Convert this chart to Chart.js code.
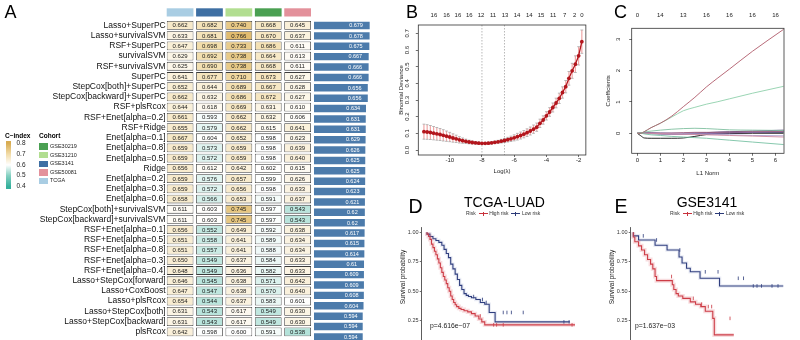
<!DOCTYPE html>
<html>
<head>
<meta charset="utf-8">
<script src="https://cdn.jsdelivr.net/npm/chart.js@4.4.1/dist/chart.umd.min.js"></script>
<style>
  body { margin: 0; width: 800px; height: 340px; overflow: hidden; position: relative; background: #fff;
         font-family: "Liberation Sans", Arial, sans-serif; }
  canvas { position: absolute; }
  .t { position: absolute; white-space: nowrap; line-height: 1; color: #000; }
  .letter { font-size: 18px; }
  .sym { display: inline-block; width: 9px; height: 4px; margin: 0 1.5px;
         background: linear-gradient(var(--c), var(--c)) center / 100% 1px no-repeat,
                     linear-gradient(var(--c), var(--c)) center / 1px 100% no-repeat; }
  .leg { position: absolute; display: flex; align-items: center; font-size: 5px; color: #333; line-height: 1; white-space: nowrap; }
  .rot { position: absolute; white-space: nowrap; line-height: 1; transform: translate(-50%, -50%) rotate(-90deg); }
</style>
</head>
<body>

<canvas id="heat" width="312" height="343" style="left:0;top:0"></canvas>
<canvas id="meanBars" width="60" height="343" style="left:313.5px;top:0"></canvas>
<canvas id="cvDev" width="210" height="180" style="left:380px;top:0"></canvas>
<canvas id="coefPath" width="210" height="180" style="left:590px;top:0"></canvas>
<canvas id="kmTcga" width="210" height="175" style="left:380px;top:180px"></canvas>
<canvas id="kmGse" width="210" height="175" style="left:590px;top:180px"></canvas>

<div class="t letter" style="left:4.5px;top:2.7px">A</div>
<div class="t letter" style="left:406px;top:2.7px">B</div>
<div class="t letter" style="left:614px;top:2.7px">C</div>
<div class="t" style="left:408.5px;top:196.8px;font-size:19.5px">D</div>
<div class="t" style="left:614.5px;top:196.8px;font-size:19.5px">E</div>

<!-- heatmap legends -->
<div class="t" style="left:5px;top:133px;font-size:6.5px;font-weight:bold">C−index</div>
<div class="t" style="left:39px;top:133px;font-size:6.5px;font-weight:bold">Cohort</div>
<div style="position:absolute;left:5.5px;top:141px;width:5.5px;height:47.5px;
  background:linear-gradient(to bottom,#d8ac52 4.8%,#f2dca8 27.4%,#ffffff 49.9%,#84d0c1 72.4%,#35b09c 94.9%)"></div>
<div id="cbTicks"></div>
<div id="cohortKey"></div>

<!-- survival panel titles -->
<div class="t" style="left:504.5px;top:194.9px;font-size:14px;transform:translateX(-50%)">TCGA-LUAD</div>
<div class="t" style="left:707px;top:194.9px;font-size:14px;transform:translateX(-50%)">GSE3141</div>
<div class="leg" style="left:466px;top:211px">Risk&nbsp;<span class="sym" style="--c:#c8323c"></span>High risk&nbsp;<span class="sym" style="--c:#2b3a78"></span>Low risk</div>
<div class="leg" style="left:670px;top:211px">Risk&nbsp;<span class="sym" style="--c:#c8323c"></span>High risk&nbsp;<span class="sym" style="--c:#2b3a78"></span>Low risk</div>
<div class="rot" style="left:403.3px;top:276.5px;font-size:6.5px;color:#222">Survival probability</div>
<div class="rot" style="left:611.7px;top:276.5px;font-size:6.5px;color:#222">Survival probability</div>
<div class="t" style="left:430px;top:323.4px;font-size:6.8px;color:#222">p=4.616e−07</div>
<div class="t" style="left:635px;top:323.4px;font-size:6.8px;color:#222">p=1.637e−03</div>

<script>
// ---- C-index table (A) ----
const cohorts = ['TCGA', 'GSE3141', 'GSE31210', 'GSE30219', 'GSE50081'];
const cohortColors = ['#a9cde3', '#3e6fa3', '#b2de91', '#4aa052', '#e3919b'];
const models = ['Lasso+SuperPC', 'Lasso+survivalSVM', 'RSF+SuperPC', 'survivalSVM', 'RSF+survivalSVM', 'SuperPC',
  'StepCox[both]+SuperPC', 'StepCox[backward]+SuperPC', 'RSF+plsRcox', 'RSF+Enet[alpha=0.2]', 'RSF+Ridge',
  'Enet[alpha=0.1]', 'Enet[alpha=0.8]', 'Enet[alpha=0.5]', 'Ridge', 'Enet[alpha=0.2]', 'Enet[alpha=0.3]',
  'Enet[alpha=0.6]', 'StepCox[both]+survivalSVM', 'StepCox[backward]+survivalSVM', 'RSF+Enet[alpha=0.1]',
  'RSF+Enet[alpha=0.5]', 'RSF+Enet[alpha=0.8]', 'RSF+Enet[alpha=0.3]', 'RSF+Enet[alpha=0.4]',
  'Lasso+StepCox[forward]', 'Lasso+CoxBoost', 'Lasso+plsRcox', 'Lasso+StepCox[both]', 'Lasso+StepCox[backward]', 'plsRcox'];
const tcga     = [0.662,0.633,0.647,0.629,0.625,0.641,0.652,0.662,0.644,0.661,0.655,0.667,0.659,0.659,0.656,0.659,0.659,0.658,0.611,0.611,0.656,0.651,0.651,0.650,0.648,0.646,0.647,0.654,0.631,0.631,0.642];
const gse3141  = [0.682,0.681,0.698,0.692,0.690,0.677,0.644,0.632,0.618,0.593,0.579,0.604,0.573,0.572,0.612,0.576,0.572,0.566,0.603,0.603,0.552,0.558,0.557,0.549,0.549,0.545,0.547,0.544,0.543,0.543,0.598];
const gse31210 = [0.740,0.766,0.733,0.738,0.738,0.710,0.689,0.686,0.669,0.662,0.662,0.652,0.659,0.659,0.642,0.657,0.656,0.653,0.745,0.745,0.649,0.641,0.641,0.637,0.636,0.638,0.638,0.637,0.617,0.617,0.600];
const gse30219 = [0.668,0.670,0.686,0.664,0.668,0.673,0.667,0.672,0.631,0.632,0.615,0.598,0.598,0.598,0.602,0.599,0.598,0.591,0.597,0.597,0.592,0.589,0.588,0.584,0.582,0.571,0.570,0.583,0.549,0.549,0.591];
const gse50081 = [0.645,0.637,0.611,0.613,0.611,0.627,0.628,0.627,0.610,0.606,0.641,0.623,0.639,0.640,0.615,0.626,0.633,0.637,0.543,0.543,0.638,0.634,0.634,0.633,0.633,0.642,0.640,0.601,0.630,0.630,0.538];
const meanC    = [0.679,0.678,0.675,0.667,0.666,0.666,0.656,0.656,0.634,0.631,0.631,0.629,0.626,0.625,0.625,0.624,0.623,0.621,0.62,0.62,0.617,0.615,0.614,0.61,0.609,0.609,0.608,0.604,0.594,0.594,0.594];
const cbTicks = [0.8, 0.7, 0.6, 0.5, 0.4];

// ---- lasso CV (B) ----
const lamLog = [-11.6,-11.4,-11.2,-11.0,-10.8,-10.6,-10.4,-10.2,-10.0,-9.8,-9.6,-9.4,-9.2,-9.0,-8.8,-8.6,-8.4,-8.2,-8.0,-7.8,
  -7.6,-7.4,-7.2,-7.0,-6.8,-6.6,-6.4,-6.2,-6.0,-5.8,-5.6,-5.4,-5.2,-5.0,-4.8,-4.6,-4.4,-4.2,-4.0,-3.8,
  -3.6,-3.4,-3.2,-3.0,-2.8,-2.6,-2.4,-2.2,-2.0,-1.8];
const devMean = [0.110,0.108,0.105,0.101,0.097,0.093,0.088,0.083,0.078,0.072,0.067,0.061,0.056,0.052,0.048,0.045,0.043,0.041,0.040,0.040,
  0.041,0.043,0.046,0.049,0.053,0.057,0.062,0.067,0.073,0.080,0.087,0.095,0.104,0.114,0.125,0.137,0.160,0.180,0.205,0.228,
  0.255,0.282,0.310,0.345,0.380,0.430,0.475,0.515,0.565,0.650];
const devSE = [0.045,0.044,0.042,0.040,0.038,0.036,0.034,0.031,0.028,0.025,0.022,0.019,0.016,0.013,0.011,0.009,0.008,0.007,0.006,0.006,
  0.006,0.007,0.008,0.009,0.011,0.012,0.014,0.016,0.018,0.020,0.021,0.022,0.023,0.024,0.025,0.025,0.025,0.025,0.025,0.026,
  0.027,0.029,0.031,0.034,0.037,0.041,0.045,0.050,0.055,0.070];
const lamMin = -8.0, lam1se = -6.6;
const nzeroPosB = [-10.98,-10.2,-9.49,-8.78,-8.06,-7.31,-6.57,-5.82,-5.06,-4.33,-3.58,-2.86,-2.25,-1.8];
const nzeroLabB = ['16','16','16','16','12','11','13','14','14','15','11','7','2','0'];
const devTicks = [0, 0.1, 0.2, 0.3, 0.4, 0.5, 0.6, 0.7];
const lamTicks = [-10, -8, -6, -4, -2];

// ---- coefficient paths (C) ----
const l1Norm = [0, 0.15, 0.3, 0.6, 1.0, 1.5, 2.0, 2.5, 3.0, 3.5, 4.0, 5.0, 6.35];
const coefPaths = [
  ['#b05a6a', [0, 0, 0.05, 0.18, 0.32, 0.55, 0.85, 1.15, 1.48, 1.77, 2.05, 2.62, 3.32]],
  ['#8fd0ab', [0, 0, 0.05, 0.18, 0.32, 0.52, 0.72, 0.83, 0.93, 1.01, 1.10, 1.28, 1.50]],
  ['#7fbf9f', [0, 0.01, 0.04, 0.07, 0.10, 0.13, 0.15, 0.16, 0.15, 0.13, 0.11, 0.10, 0.09]],
  ['#78c2a4', [0, 0, -0.02, -0.05, -0.07, -0.10, -0.12, -0.14, -0.16, -0.19, -0.22, -0.28, -0.36]],
  ['#d08aa0', [0, 0, 0, 0, -0.01, -0.02, -0.03, -0.04, -0.05, -0.06, -0.07, -0.09, -0.12]],
  ['#b0a0d0', [0, 0, 0, 0, 0, 0, -0.01, -0.02, -0.03, -0.04, -0.05, -0.07, -0.08]],
  ['#a06080', [0, 0, 0, 0, 0, 0.01, 0.02, 0.03, 0.03, 0.03, 0.04, 0.05, 0.06]],
  ['#8a6bb0', [0, 0, 0, -0.01, -0.02, -0.03, -0.03, -0.02, -0.01, 0, 0.01, 0.03, 0.05]],
  ['#5a3d7a', [0, 0.01, 0.02, 0.02, 0.01, 0, 0, 0.01, 0.02, 0.04, 0.05, 0.07, 0.10]],
  ['#303050', [0, 0, 0, -0.01, -0.02, -0.02, -0.02, -0.01, 0, 0.01, 0.02, 0.03, 0.03]],
  ['#111111', [0, -0.08, -0.15, -0.16, -0.16, -0.16, -0.15, -0.10, -0.04, -0.02, -0.01, 0, 0]]
];
const nzeroPosC = [0, 1, 2, 3, 4, 5, 6];
const nzeroLabC = ['0', '14', '13', '16', '16', '16', '16'];
const coefTicks = [0, 1, 2, 3];
const normTicks = [0, 1, 2, 3, 4, 5, 6];

// ---- Kaplan-Meier (D: TCGA-LUAD, E: GSE3141), time in years ----
const tcgaHighT = [0,0.2,0.4,0.6,0.8,1.0,1.2,1.4,1.6,1.8,2.0,2.2,2.4,2.6,2.8,3.0,3.2,3.4,3.6,3.8,4.0,4.3,4.6,5.0,5.5,6.0,6.5,7.0,7.4,7.8,8.3,20];
const tcgaHighS = [1,0.985,0.965,0.94,0.90,0.87,0.84,0.81,0.775,0.74,0.70,0.66,0.625,0.595,0.565,0.53,0.50,0.46,0.43,0.405,0.385,0.37,0.355,0.345,0.335,0.325,0.31,0.29,0.265,0.24,0.215,0.215];
const tcgaLowT = [0,0.4,0.8,1.2,1.6,2.0,2.3,2.6,2.9,3.2,3.5,3.8,4.1,4.4,4.7,5.0,5.3,5.6,6.0,6.6,7.2,7.8,8.4,9.2,13.5,19.3];
const tcgaLowS = [1,0.985,0.965,0.945,0.93,0.915,0.89,0.855,0.82,0.785,0.73,0.69,0.645,0.60,0.55,0.515,0.48,0.465,0.455,0.445,0.43,0.405,0.39,0.32,0.24,0.24];
const tcgaHighCens = [7.2, 9.0, 9.4, 10.3, 19.6];
const tcgaLowCens = [6.3, 7.5, 8.0, 10.3, 10.8, 11.4, 13.0, 18.5, 19.2];
const gseHighT = [0,0.2,0.7,1.1,1.5,1.9,2.3,2.6,2.9,3.1,5.2,5.4,5.7,6.0,6.6,7.6,8.3,9.0,9.6,10.6,10.8,13.4];
const gseHighS = [1,0.96,0.92,0.885,0.85,0.81,0.77,0.73,0.69,0.625,0.59,0.555,0.515,0.48,0.46,0.44,0.41,0.39,0.37,0.33,0.27,0.13];
const gseLowT = [0,0.7,2.9,4.5,6.1,6.5,7.1,7.6,8.9,11.5,14.8,20];
const gseLowS = [1,0.97,0.935,0.89,0.85,0.79,0.74,0.695,0.665,0.61,0.545,0.545];
const gseHighCens = [5.1, 8.0, 9.1, 10.0, 10.45, 12.9];
const gseLowCens = [1.33, 3.1, 6.2, 9.6, 11.3, 14.0, 14.7, 16.0, 16.5, 17.1, 18.5, 19.3];
const survTicks = [0, 0.25, 0.5, 0.75, 1.0];

const FONT = '"Liberation Sans", Arial, sans-serif';
Chart.defaults.font.family = FONT;
Chart.defaults.color = '#222';
Chart.defaults.animation = false;
Chart.defaults.plugins.legend.display = false;
Chart.defaults.plugins.tooltip.enabled = false;

// heatmap colour ramp
const rampAt = [0.4, 0.5, 0.6, 0.7, 0.8];
const rampCol = ['#35b09c', '#84d0c1', '#ffffff', '#f2dca8', '#d8ac52'];
function hex(c) { return [1, 3, 5].map(i => parseInt(c.slice(i, i + 2), 16)); }
function cIndexColor(v) {
  let i = 0;
  while (i < rampAt.length - 2 && v > rampAt[i + 1]) i++;
  const f = Math.min(1, Math.max(0, (v - rampAt[i]) / (rampAt[i + 1] - rampAt[i])));
  const a = hex(rampCol[i]), b = hex(rampCol[i + 1]);
  return 'rgb(' + a.map((c, k) => Math.round(c + (b[k] - c) * f)).join(',') + ')';
}

// legends beside the table
document.getElementById('cbTicks').innerHTML = cbTicks.map((v, i) =>
  `<div class="t" style="left:16.5px;top:${143.3 + i * 10.7 - 3.2}px;font-size:6.5px;color:#222">${v.toFixed(1)}</div>`).join('');
const keyOrder = [3, 2, 1, 4, 0];
document.getElementById('cohortKey').innerHTML = keyOrder.map((j, i) =>
  `<div style="position:absolute;left:38.5px;top:${143.3 + i * 8.6}px;width:9.5px;height:6.6px;background:${cohortColors[j]}"></div>
   <div class="t" style="left:50px;top:${143.3 + i * 8.6 + 0.6}px;font-size:5.5px;color:#222">${cohorts[j]}</div>`).join('');

// ---- A: heatmap of C-index ----
const cohortCols = [tcga, gse3141, gse31210, gse30219, gse50081];
const cellW = 0.91;
const heatLabels = {
  id: 'heatLabels',
  afterDatasetsDraw(chart) {
    const { ctx, chartArea, scales: { x } } = chart;
    ctx.save();
    cohortColors.forEach((col, j) => {
      const x0 = x.getPixelForValue(j), x1 = x.getPixelForValue(j + cellW);
      ctx.fillStyle = col;
      ctx.fillRect(x0, chartArea.top - 12, x1 - x0, 8.2);
    });
    ctx.font = '6px ' + FONT;
    ctx.fillStyle = '#1a1a1a';
    ctx.textAlign = 'center';
    ctx.textBaseline = 'middle';
    chart.data.datasets.forEach((ds, j) => {
      chart.getDatasetMeta(j).data.forEach((bar, i) => {
        ctx.fillText(cohortCols[j][i].toFixed(3), (bar.x + bar.base) / 2, bar.y + 0.4);
      });
    });
    ctx.restore();
  }
};
new Chart(document.getElementById('heat'), {
  type: 'bar',
  data: {
    labels: models,
    datasets: cohortCols.map((vals, j) => ({
      label: cohorts[j],
      data: vals.map(() => [j, j + cellW]),
      backgroundColor: c => cIndexColor(vals[c.dataIndex]),
      borderColor: '#3a3a3a',
      borderWidth: 0.8,
      borderSkipped: false,
      grouped: false,
      barPercentage: 0.86,
      categoryPercentage: 1
    }))
  },
  options: {
    indexAxis: 'y',
    responsive: false,
    layout: { padding: { top: 20.3, bottom: 0.9, right: 1 } },
    scales: {
      x: { display: false, min: 0, max: 4 + cellW },
      y: {
        afterFit: s => { s.width = 166.7; },
        grid: { display: false, drawTicks: false },
        border: { display: false },
        ticks: { autoSkip: false, padding: 1, color: '#111', font: { size: 8.5 } }
      }
    }
  },
  plugins: [heatLabels]
});

// mean C-index bars
const meanLabels = {
  id: 'meanLabels',
  afterDatasetsDraw(chart) {
    const { ctx } = chart;
    ctx.save();
    ctx.font = '5.5px ' + FONT;
    ctx.fillStyle = '#ffffff';
    ctx.textAlign = 'center';
    ctx.textBaseline = 'middle';
    chart.getDatasetMeta(0).data.forEach((bar, i) => {
      ctx.fillText(String(meanC[i]), bar.base + (bar.x - bar.base) * 0.755, bar.y + 0.3);
    });
    ctx.restore();
  }
};
new Chart(document.getElementById('meanBars'), {
  type: 'bar',
  data: { labels: models, datasets: [{ data: meanC, backgroundColor: '#4c7bab', barPercentage: 0.72, categoryPercentage: 1 }] },
  options: {
    indexAxis: 'y',
    responsive: false,
    layout: { padding: { top: 20.3, bottom: 0.9 } },
    scales: { x: { display: false, min: 0, max: 0.7317 }, y: { display: false } }
  },
  plugins: [meanLabels]
});

// ---- shared R-style helpers ----
const boxPlugin = {
  id: 'box',
  afterDraw(chart) {
    const { ctx, chartArea: a } = chart;
    ctx.save();
    ctx.strokeStyle = '#333';
    ctx.lineWidth = 0.8;
    ctx.strokeRect(a.left, a.top, a.right - a.left, a.bottom - a.top);
    ctx.restore();
  }
};
function fixedTicks(vals) { return s => { s.ticks = vals.map(v => ({ value: v })); }; }
const tickGrid = { display: true, drawOnChartArea: false, drawTicks: true, tickLength: 2.5, color: '#333', lineWidth: 0.7 };

// ---- B: cross-validated deviance ----
const cvBars = {
  id: 'cvBars',
  beforeDatasetsDraw(chart) {
    const { ctx, chartArea: a, scales: { x, y } } = chart;
    ctx.save();
    ctx.strokeStyle = '#999';
    ctx.lineWidth = 0.7;
    ctx.setLineDash([1.5, 1.5]);
    [lamMin, lam1se].forEach(v => {
      const px = x.getPixelForValue(v);
      ctx.beginPath(); ctx.moveTo(px, a.top); ctx.lineTo(px, a.bottom); ctx.stroke();
    });
    ctx.setLineDash([]);
    lamLog.forEach((l, i) => {
      const px = x.getPixelForValue(l);
      const yt = y.getPixelForValue(devMean[i] + devSE[i]);
      const yb = y.getPixelForValue(devMean[i] - devSE[i]);
      ctx.strokeStyle = 'rgba(236,150,150,0.85)';
      ctx.lineWidth = 1.2;
      ctx.beginPath(); ctx.moveTo(px, yt); ctx.lineTo(px, yb); ctx.stroke();
      ctx.strokeStyle = '#a8a8a8';
      ctx.lineWidth = 0.8;
      ctx.beginPath();
      ctx.moveTo(px - 1.4, yt); ctx.lineTo(px + 1.4, yt);
      ctx.moveTo(px - 1.4, yb); ctx.lineTo(px + 1.4, yb);
      ctx.stroke();
    });
    ctx.restore();
  }
};
new Chart(document.getElementById('cvDev'), {
  type: 'scatter',
  data: { datasets: [{ data: lamLog.map((l, i) => ({ x: l, y: devMean[i] })), showLine: true, borderColor: '#b3151c', borderWidth: 1.3,
                       pointRadius: 1.9, pointBorderWidth: 0, pointBackgroundColor: '#b3151c' }] },
  options: {
    responsive: false,
    layout: { padding: { right: 2.7 } },
    scales: {
      x: {
        min: -11.95, max: -1.55, afterBuildTicks: fixedTicks(lamTicks), afterFit: s => { s.height = 25; },
        grid: { ...tickGrid, tickLength: 2 }, border: { display: false },
        ticks: { font: { size: 6 }, padding: 0, maxRotation: 0, autoSkip: false, callback: v => String(v) },
        title: { display: true, text: 'Log(λ)', font: { size: 6 }, padding: { top: 0, bottom: 4.7 } }
      },
      x2: {
        position: 'top', min: -11.95, max: -1.55, afterBuildTicks: fixedTicks(nzeroPosB), afterFit: s => { s.height = 25; },
        grid: { display: false, drawTicks: false }, border: { display: false },
        ticks: { font: { size: 6 }, padding: 6.4, maxRotation: 0, autoSkip: false, callback: (v, i) => nzeroLabB[i] }
      },
      y: {
        min: -0.03, max: 0.75, afterBuildTicks: fixedTicks(devTicks), afterFit: s => { s.width = 38.3; },
        grid: tickGrid, border: { display: false },
        ticks: { font: { size: 6 }, minRotation: 90, maxRotation: 90, crossAlign: 'center', padding: 4, callback: v => v.toFixed(1) },
        title: { display: true, text: 'Binomial Deviance', font: { size: 6 }, padding: { top: 18.1, bottom: 0 } }
      }
    }
  },
  plugins: [cvBars, boxPlugin]
});

// ---- C: coefficient paths ----
new Chart(document.getElementById('coefPath'), {
  type: 'scatter',
  data: {
    datasets: coefPaths.map(([col, vals]) => ({
      data: l1Norm.map((n, i) => ({ x: n, y: vals[i] })),
      showLine: true, borderColor: col, borderWidth: 0.9, pointRadius: 0, cubicInterpolationMode: 'monotone'
    }))
  },
  options: {
    responsive: false,
    layout: { padding: { right: 16 } },
    scales: {
      x: {
        min: -0.243, max: 6.37, afterBuildTicks: fixedTicks(normTicks), afterFit: s => { s.height = 26.7; },
        grid: tickGrid, border: { display: false },
        ticks: { font: { size: 6 }, padding: 0.6, maxRotation: 0, autoSkip: false },
        title: { display: true, text: 'L1 Norm', font: { size: 6 }, padding: { top: 0, bottom: 3.1 } }
      },
      x2: {
        position: 'top', min: -0.243, max: 6.37, afterBuildTicks: fixedTicks(nzeroPosC), afterFit: s => { s.height = 28.3; },
        grid: { display: false, drawTicks: false }, border: { display: false },
        ticks: { font: { size: 6 }, padding: 9.7, maxRotation: 0, autoSkip: false, callback: (v, i) => nzeroLabC[i] }
      },
      y: {
        min: -0.64, max: 3.355, afterBuildTicks: fixedTicks(coefTicks), afterFit: s => { s.width = 41.7; },
        grid: tickGrid, border: { display: false },
        ticks: { font: { size: 6 }, minRotation: 90, maxRotation: 90, crossAlign: 'center', padding: 9.5, callback: v => String(v) },
        title: { display: true, text: 'Coefficients', font: { size: 6 }, padding: { top: 14.4, bottom: 0 } }
      }
    }
  },
  plugins: [boxPlugin]
});

// ---- D / E: Kaplan-Meier curves ----
function survAt(T, S, t) {
  let s = S[0];
  T.forEach((ti, i) => { if (ti <= t) s = S[i]; });
  return s;
}
function kmChart(id, highT, highS, lowT, lowS, highCens, lowCens, xMin, left, right) {
  const red = '#c8323c', blue = '#2b3a78';
  const pts = (T, S) => T.map((t, i) => ({ x: t, y: S[i] }));
  const cens = (T, S, C) => C.map(t => ({ x: t, y: survAt(T, S, t) }));
  new Chart(document.getElementById(id), {
    type: 'scatter',
    data: {
      datasets: [
        { data: pts(highT, highS), showLine: true, stepped: 'after', borderColor: 'rgba(225,100,110,0.22)', borderWidth: 4, pointRadius: 0 },
        { data: pts(lowT, lowS), showLine: true, stepped: 'after', borderColor: 'rgba(80,100,170,0.12)', borderWidth: 3.5, pointRadius: 0 },
        { data: pts(highT, highS), showLine: true, stepped: 'after', borderColor: red, borderWidth: 1.1, pointRadius: 0 },
        { data: pts(lowT, lowS), showLine: true, stepped: 'after', borderColor: blue, borderWidth: 1.1, pointRadius: 0 },
        { data: cens(highT, highS, highCens), pointStyle: 'line', rotation: 90, pointRadius: 1.8, borderColor: red, borderWidth: 0.8 },
        { data: cens(lowT, lowS, lowCens), pointStyle: 'line', rotation: 90, pointRadius: 1.8, borderColor: blue, borderWidth: 0.8 }
      ]
    },
    options: {
      responsive: false,
      clip: false,
      layout: { padding: { top: 47.6, bottom: 4.7, right: right } },
      scales: {
        x: { display: false, min: xMin, max: 20.7 },
        y: {
          min: 0, max: 1.04, afterBuildTicks: fixedTicks(survTicks), afterFit: s => { s.width = left; },
          grid: { display: true, drawOnChartArea: false, tickLength: 2, color: '#333', lineWidth: 0.7 },
          border: { display: true, color: '#333', width: 0.8 },
          ticks: { font: { size: 5.5 }, color: '#333', padding: 1.2, callback: v => v.toFixed(2) }
        }
      }
    }
  });
}
kmChart('kmTcga', tcgaHighT, tcgaHighS, tcgaLowT, tcgaLowS, tcgaHighCens, tcgaLowCens, -0.72, 41.7, 9.8);
kmChart('kmGse', gseHighT, gseHighS, gseLowT, gseLowS, gseHighCens, gseLowCens, -0.35, 40.7, 11.5);
</script>
</body>
</html>
